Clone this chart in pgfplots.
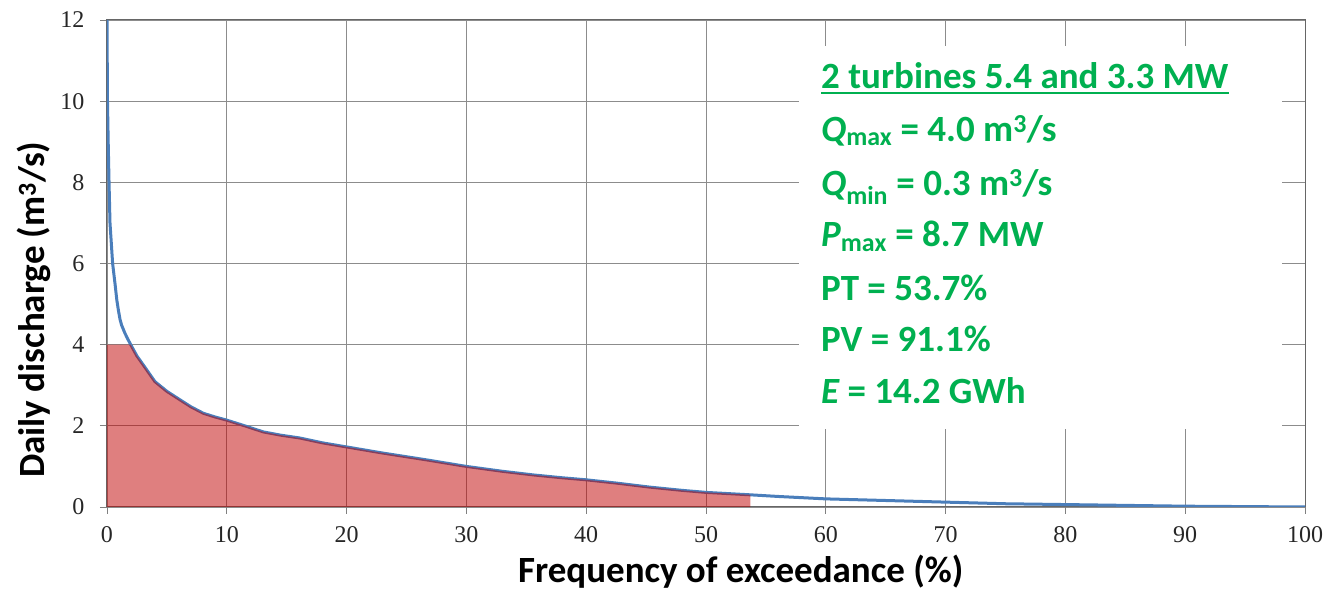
\documentclass[border=0pt]{standalone}
\usepackage{fontspec}
\setmainfont{Carlito}
\newfontfamily\tickfont{Liberation Serif}
\usepackage{pgfplots}
\pgfplotsset{compat=1.18}
\definecolor{curveblue}{RGB}{74,126,187}
\definecolor{fillred}{RGB}{192,0,0}
\definecolor{txtgreen}{RGB}{0,176,80}
\begin{document}
\begin{tikzpicture}
\useasboundingbox (-107pt,-89pt) rectangle (1227pt,507pt);
\begin{axis}[
  at={(0,0)}, anchor=south west,
  scale only axis, width=1198pt, height=487pt,
  xmin=0, xmax=100, ymin=0, ymax=12,
  xtick={0,10,...,100}, ytick={0,2,...,12},
  xtick pos=left, ytick pos=left,
  grid=major, grid style={black!45, line width=0.9pt},
  axis line style={black!60, line width=1pt},
  tick style={black!50, line width=0.9pt},
  tick align=outside, major tick length=7pt,
  /pgf/number format/assume math mode=true,
  ticklabel style={font=\tickfont\fontsize{24}{28}\selectfont, text=black!85},
  xticklabel style={yshift=-9pt},
  yticklabel style={xshift=-12pt},
  xlabel={Frequency of exceedance (\%)},
  ylabel={Daily discharge (m\textsuperscript{3}/s)},
  label style={font=\bfseries\fontsize{37}{44}\selectfont},
  xlabel style={at={(axis description cs:0.529,-0.156)}, anchor=base},
  ylabel style={at={(axis description cs:-0.0518,0.405)}, anchor=base},
]
\addplot[curveblue, line width=3pt] coordinates {
(0,12) (0.02,11) (0.04,10) (0.1,9) (0.17,8) (0.25,7) (0.47,6) (0.67,5.5) (0.82,5.1)
(0.95,4.85) (1.09,4.62) (1.22,4.48) (1.5,4.28) (1.75,4.13) (1.98,4.0) (2.5,3.72) (3.03,3.5) (4.0,3.09) (5,2.85) (6.1,2.64)
(7,2.47) (8.04,2.31) (9,2.22) (10,2.14) (11.5,2.0) (13.05,1.85) (14.5,1.77) (16.1,1.70)
(18,1.58) (20,1.48) (23,1.33) (26.7,1.16) (30,1.0) (33,0.88) (35.6,0.79) (38,0.72)
(40,0.67) (42.5,0.59) (45.3,0.49) (48,0.41) (50,0.36) (53.7,0.3) (56,0.26) (60,0.2)
(65,0.16) (70,0.12) (75,0.08) (80,0.06) (85,0.04) (90,0.02) (95,0.01) (100,0.0)
};
\addplot[fill=fillred, fill opacity=0.5, draw=none] coordinates {
(0,4) (1.98,4.0) (2.5,3.72) (3.03,3.5) (4.0,3.09) (5,2.85) (6.1,2.64)
(7,2.47) (8.04,2.31) (9,2.22) (10,2.14) (11.5,2.0) (13.05,1.85) (14.5,1.77) (16.1,1.70)
(18,1.58) (20,1.48) (23,1.33) (26.7,1.16) (30,1.0) (33,0.88) (35.6,0.79) (38,0.72)
(40,0.67) (42.5,0.59) (45.3,0.49) (48,0.41) (50,0.36) (53.7,0.3)
} \closedcycle;
\fill[white] (axis cs:57.8,1.92) rectangle (axis cs:98.1,11.35);
\begin{scope}[every node/.style={anchor=base west, inner sep=0pt, text=txtgreen, font=\bfseries\fontsize{37}{44}\selectfont}]
\node (t1) at (axis cs:59.6,10.32) {2 turbines 5.4 and 3.3 MW};
\node at (axis cs:59.6,9.0) {{\itshape Q}\textsubscript{max} = 4.0 m\textsuperscript{3}/s};
\node at (axis cs:59.6,7.68) {{\itshape Q}\textsubscript{min} = 0.3 m\textsuperscript{3}/s};
\node at (axis cs:59.6,6.41) {{\itshape P}\textsubscript{max} = 8.7 MW};
\node at (axis cs:59.6,5.10) {PT = 53.7\%};
\node at (axis cs:59.6,3.83) {PV = 91.1\%};
\node at (axis cs:59.6,2.56) {{\itshape E} = 14.2 GWh};
\end{scope}
\end{axis}
\draw[txtgreen, line width=2pt] ([yshift=-5pt]t1.base west) -- ([yshift=-5pt]t1.base east);
\end{tikzpicture}
\end{document}
